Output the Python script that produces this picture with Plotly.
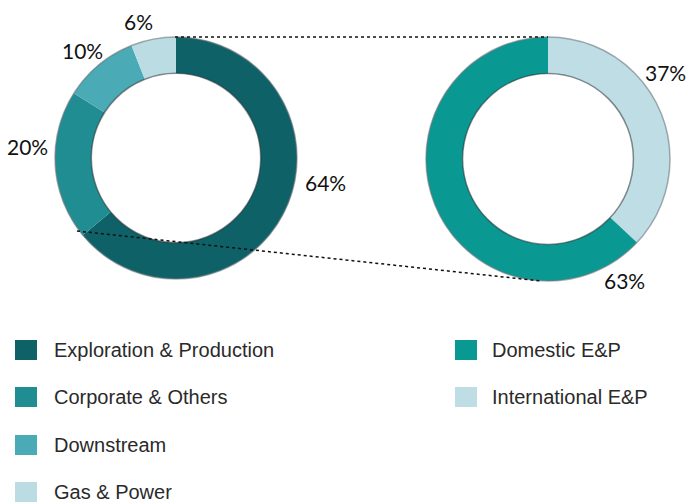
import plotly.graph_objects as go

# Segment split (left ring) and E&P split (right ring), in percent
segment_labels = ["Exploration & Production", "Corporate & Others", "Downstream", "Gas & Power"]
segment_values = [64, 20, 10, 6]
segment_colors = ["#0e6167", "#1f8d91", "#4aaab6", "#bcdce3"]

ep_labels = ["International E&P", "Domestic E&P"]
ep_values = [37, 63]
ep_colors = ["#bedde4", "#0a9893"]

W, H = 687, 502

# ring geometry in pixels
left_c, left_r = (176, 158), 121
right_c, right_r = (548, 159), 122
hole = 0.70


def domain(c, r):
    cx, cy = c
    return dict(x=[(cx - r) / W, (cx + r) / W], y=[1 - (cy + r) / H, 1 - (cy - r) / H])


fig = go.Figure()
fig.add_trace(go.Pie(
    labels=segment_labels, values=segment_values, sort=False, direction="clockwise",
    rotation=0, hole=hole, marker=dict(colors=segment_colors, line=dict(width=0)),
    textinfo="none", hoverinfo="label+percent", showlegend=False,
    domain=domain(left_c, left_r),
))
fig.add_trace(go.Pie(
    labels=ep_labels, values=ep_values, sort=False, direction="clockwise",
    rotation=0, hole=hole, marker=dict(colors=ep_colors, line=dict(width=0)),
    textinfo="none", hoverinfo="label+percent", showlegend=False,
    domain=domain(right_c, right_r),
))

shapes = []
# soft bevel edges around each ring
for (cx, cy), r in [(left_c, left_r), (right_c, right_r)]:
    ri = r * hole
    shapes.append(dict(type="circle", xref="x", yref="y", x0=cx - r, x1=cx + r,
                       y0=cy - r, y1=cy + r, line=dict(color="rgba(110,120,125,0.6)", width=1.5)))
    shapes.append(dict(type="circle", xref="x", yref="y", x0=cx - ri, x1=cx + ri,
                       y0=cy - ri, y1=cy + ri, line=dict(color="rgba(40,50,55,0.55)", width=1.5)))

# dotted connectors between the E&P slice and the right ring
for (x0, y0, x1, y1) in [(175, 37, 548, 37), (77, 231, 541, 281)]:
    shapes.append(dict(type="line", xref="x", yref="y", x0=x0, y0=y0, x1=x1, y1=y1,
                       line=dict(color="#111111", width=1.5, dash="dot")))

# legend swatches
left_rows = [350, 397, 445, 492]
right_rows = [350, 397]
for yc, col in zip(left_rows, segment_colors):
    shapes.append(dict(type="rect", xref="x", yref="y", x0=15, x1=37, y0=yc - 10, y1=yc + 10,
                       fillcolor=col, line=dict(width=0)))
for yc, col in zip(right_rows, [ep_colors[1], ep_colors[0]]):
    shapes.append(dict(type="rect", xref="x", yref="y", x0=455, x1=477, y0=yc - 10, y1=yc + 10,
                       fillcolor=col, line=dict(width=0)))

annotations = []
legend_font = dict(family="Liberation Sans, Arial, sans-serif", size=20, color="#2a2a2a")
for yc, lab in zip(left_rows, segment_labels):
    annotations.append(dict(x=52, y=yc, xref="x", yref="y", text=lab, showarrow=False,
                            xanchor="left", yanchor="middle", font=legend_font))
for yc, lab in zip(right_rows, [ep_labels[1], ep_labels[0]]):
    annotations.append(dict(x=490, y=yc, xref="x", yref="y", text=lab, showarrow=False,
                            xanchor="left", yanchor="middle", font=legend_font))

pct_font = dict(family="Lato, sans-serif", size=21, color="#111111")
seg_pos = [(325, 182), (27, 146), (82, 50), (138, 21)]
for (x, y), v in zip(seg_pos, segment_values):
    annotations.append(dict(x=x, y=y, xref="x", yref="y", text=f"{v}%", showarrow=False,
                            xanchor="center", yanchor="middle", font=pct_font))
ep_pos = [(665, 72), (624, 280)]
for (x, y), v in zip(ep_pos, ep_values):
    annotations.append(dict(x=x, y=y, xref="x", yref="y", text=f"{v}%", showarrow=False,
                            xanchor="center", yanchor="middle", font=pct_font))

fig.update_layout(
    width=W, height=H, margin=dict(l=0, r=0, t=0, b=0),
    paper_bgcolor="white", plot_bgcolor="rgba(0,0,0,0)",
    xaxis=dict(range=[0, W], visible=False, fixedrange=True),
    yaxis=dict(range=[H, 0], visible=False, fixedrange=True),
    shapes=shapes, annotations=annotations, showlegend=False,
)

fig.write_html("out.html")
